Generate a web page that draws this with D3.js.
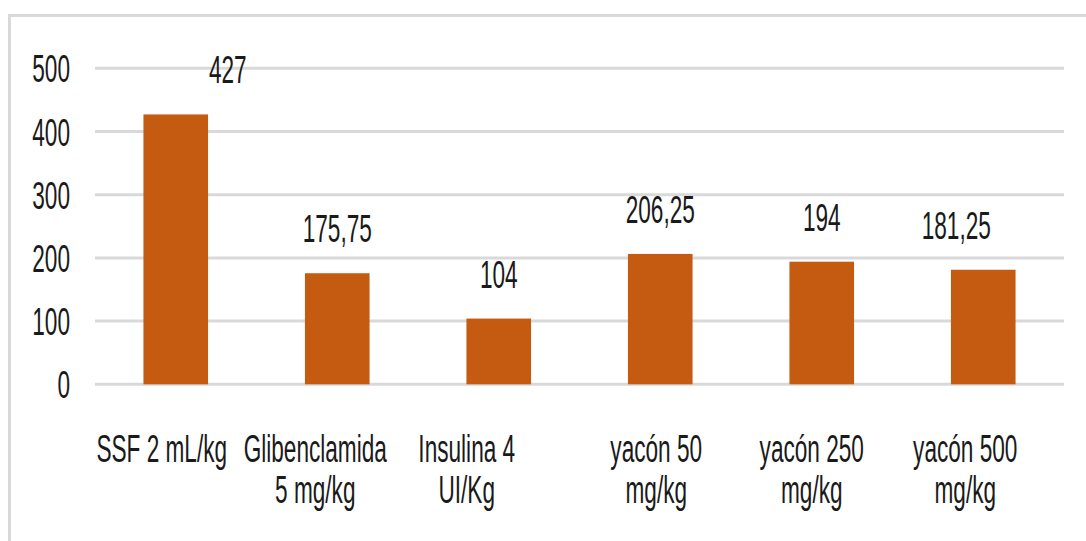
<!DOCTYPE html>
<html>
<head>
<meta charset="utf-8">
<script src="https://cdn.jsdelivr.net/npm/d3@7"></script>
<style>
  html, body { margin: 0; padding: 0; background: #fff; }
  svg { display: block; }
  text { font-family: "Liberation Sans", Arial, sans-serif; fill: #1a1a1a; }
</style>
</head>
<body>
<svg id="chart" width="1086" height="541"></svg>
<script>
// Chart data
const categories = ["SSF 2 mL/kg", "Glibenclamida 5 mg/kg", "Insulina 4 UI/Kg",
  "yacón 50 mg/kg", "yacón 250 mg/kg", "yacón 500 mg/kg"];
const values = [427, 175.75, 104, 206.25, 194, 181.25];
const valueLabels = ["427", "175,75", "104", "206,25", "194", "181,25"];
const yTicks = [0, 100, 200, 300, 400, 500];

const W = 1086, H = 541;
const plot = {left: 95, right: 1064, top: 68.3, bottom: 384.3};
const barColor = "#C55A11";
const gridColor = "#D9D9D9";
const fontSize = 39;
const squeeze = 0.58;   // text is drawn condensed horizontally

const svg = d3.select("#chart");

// outer chart border (right and bottom edges fall outside the picture)
svg.append("rect")
  .attr("x", 9.5).attr("y", 15.5)
  .attr("width", W + 20).attr("height", H + 20)
  .attr("fill", "none")
  .attr("stroke", gridColor)
  .attr("stroke-width", 3);

const x = d3.scaleBand()
  .domain(categories)
  .range([plot.left, plot.right])
  .paddingInner(0.6)
  .paddingOuter(0.3);

const y = d3.scaleLinear()
  .domain([0, 500])
  .range([plot.bottom, plot.top]);

// helper: condensed text at a point
function label(parent, tx, ty, str, anchor) {
  const g = parent.append("g")
    .attr("transform", `translate(${tx},${ty}) scale(${squeeze},1)`);
  return g.append("text")
    .attr("text-anchor", anchor)
    .style("font-size", fontSize + "px")
    .text(str);
}

// gridlines
svg.append("g")
  .selectAll("line")
  .data(yTicks)
  .enter()
  .append("line")
  .attr("x1", plot.left).attr("x2", plot.right)
  .attr("y1", d => y(d)).attr("y2", d => y(d))
  .attr("stroke", gridColor)
  .attr("stroke-width", 3);

// y tick labels
const yAxisG = svg.append("g");
yTicks.forEach(t => label(yAxisG, 70, y(t) + 14, String(t), "end"));

// bars
svg.append("g")
  .selectAll("rect")
  .data(values)
  .enter()
  .append("rect")
  .attr("x", (d, i) => x(categories[i]))
  .attr("y", d => y(d))
  .attr("width", x.bandwidth())
  .attr("height", d => y(0) - y(d))
  .attr("fill", barColor);

// data labels (first and last were nudged sideways in the original)
const valueShift = [52, 0, 0, 0, 0, -27];
const valG = svg.append("g");
values.forEach((v, i) => {
  const cx = x(categories[i]) + x.bandwidth() / 2 + valueShift[i];
  label(valG, cx, y(v) - 31, valueLabels[i], "middle");
});

// category labels, wrapped to fit the band
const catShift = [-14, -22, -32, -4, -10, -18];
const catG = svg.append("g");
const maxWidth = 150;
categories.forEach((c, i) => {
  const cx = x(c) + x.bandwidth() / 2 + catShift[i];
  const words = c.split(" ");
  const lines = [];
  let line = [];
  words.forEach(w => {
    const trial = line.concat([w]).join(" ");
    const probe = label(catG, 0, -100, trial, "middle");
    const wd = probe.node().getComputedTextLength() * squeeze;
    probe.node().parentNode.remove();
    if (wd > maxWidth && line.length) {
      lines.push(line.join(" "));
      line = [w];
    } else {
      line.push(w);
    }
  });
  if (line.length) lines.push(line.join(" "));
  lines.forEach((ln, k) => label(catG, cx, 462 + k * 41, ln, "middle"));
});
</script>
</body>
</html>
